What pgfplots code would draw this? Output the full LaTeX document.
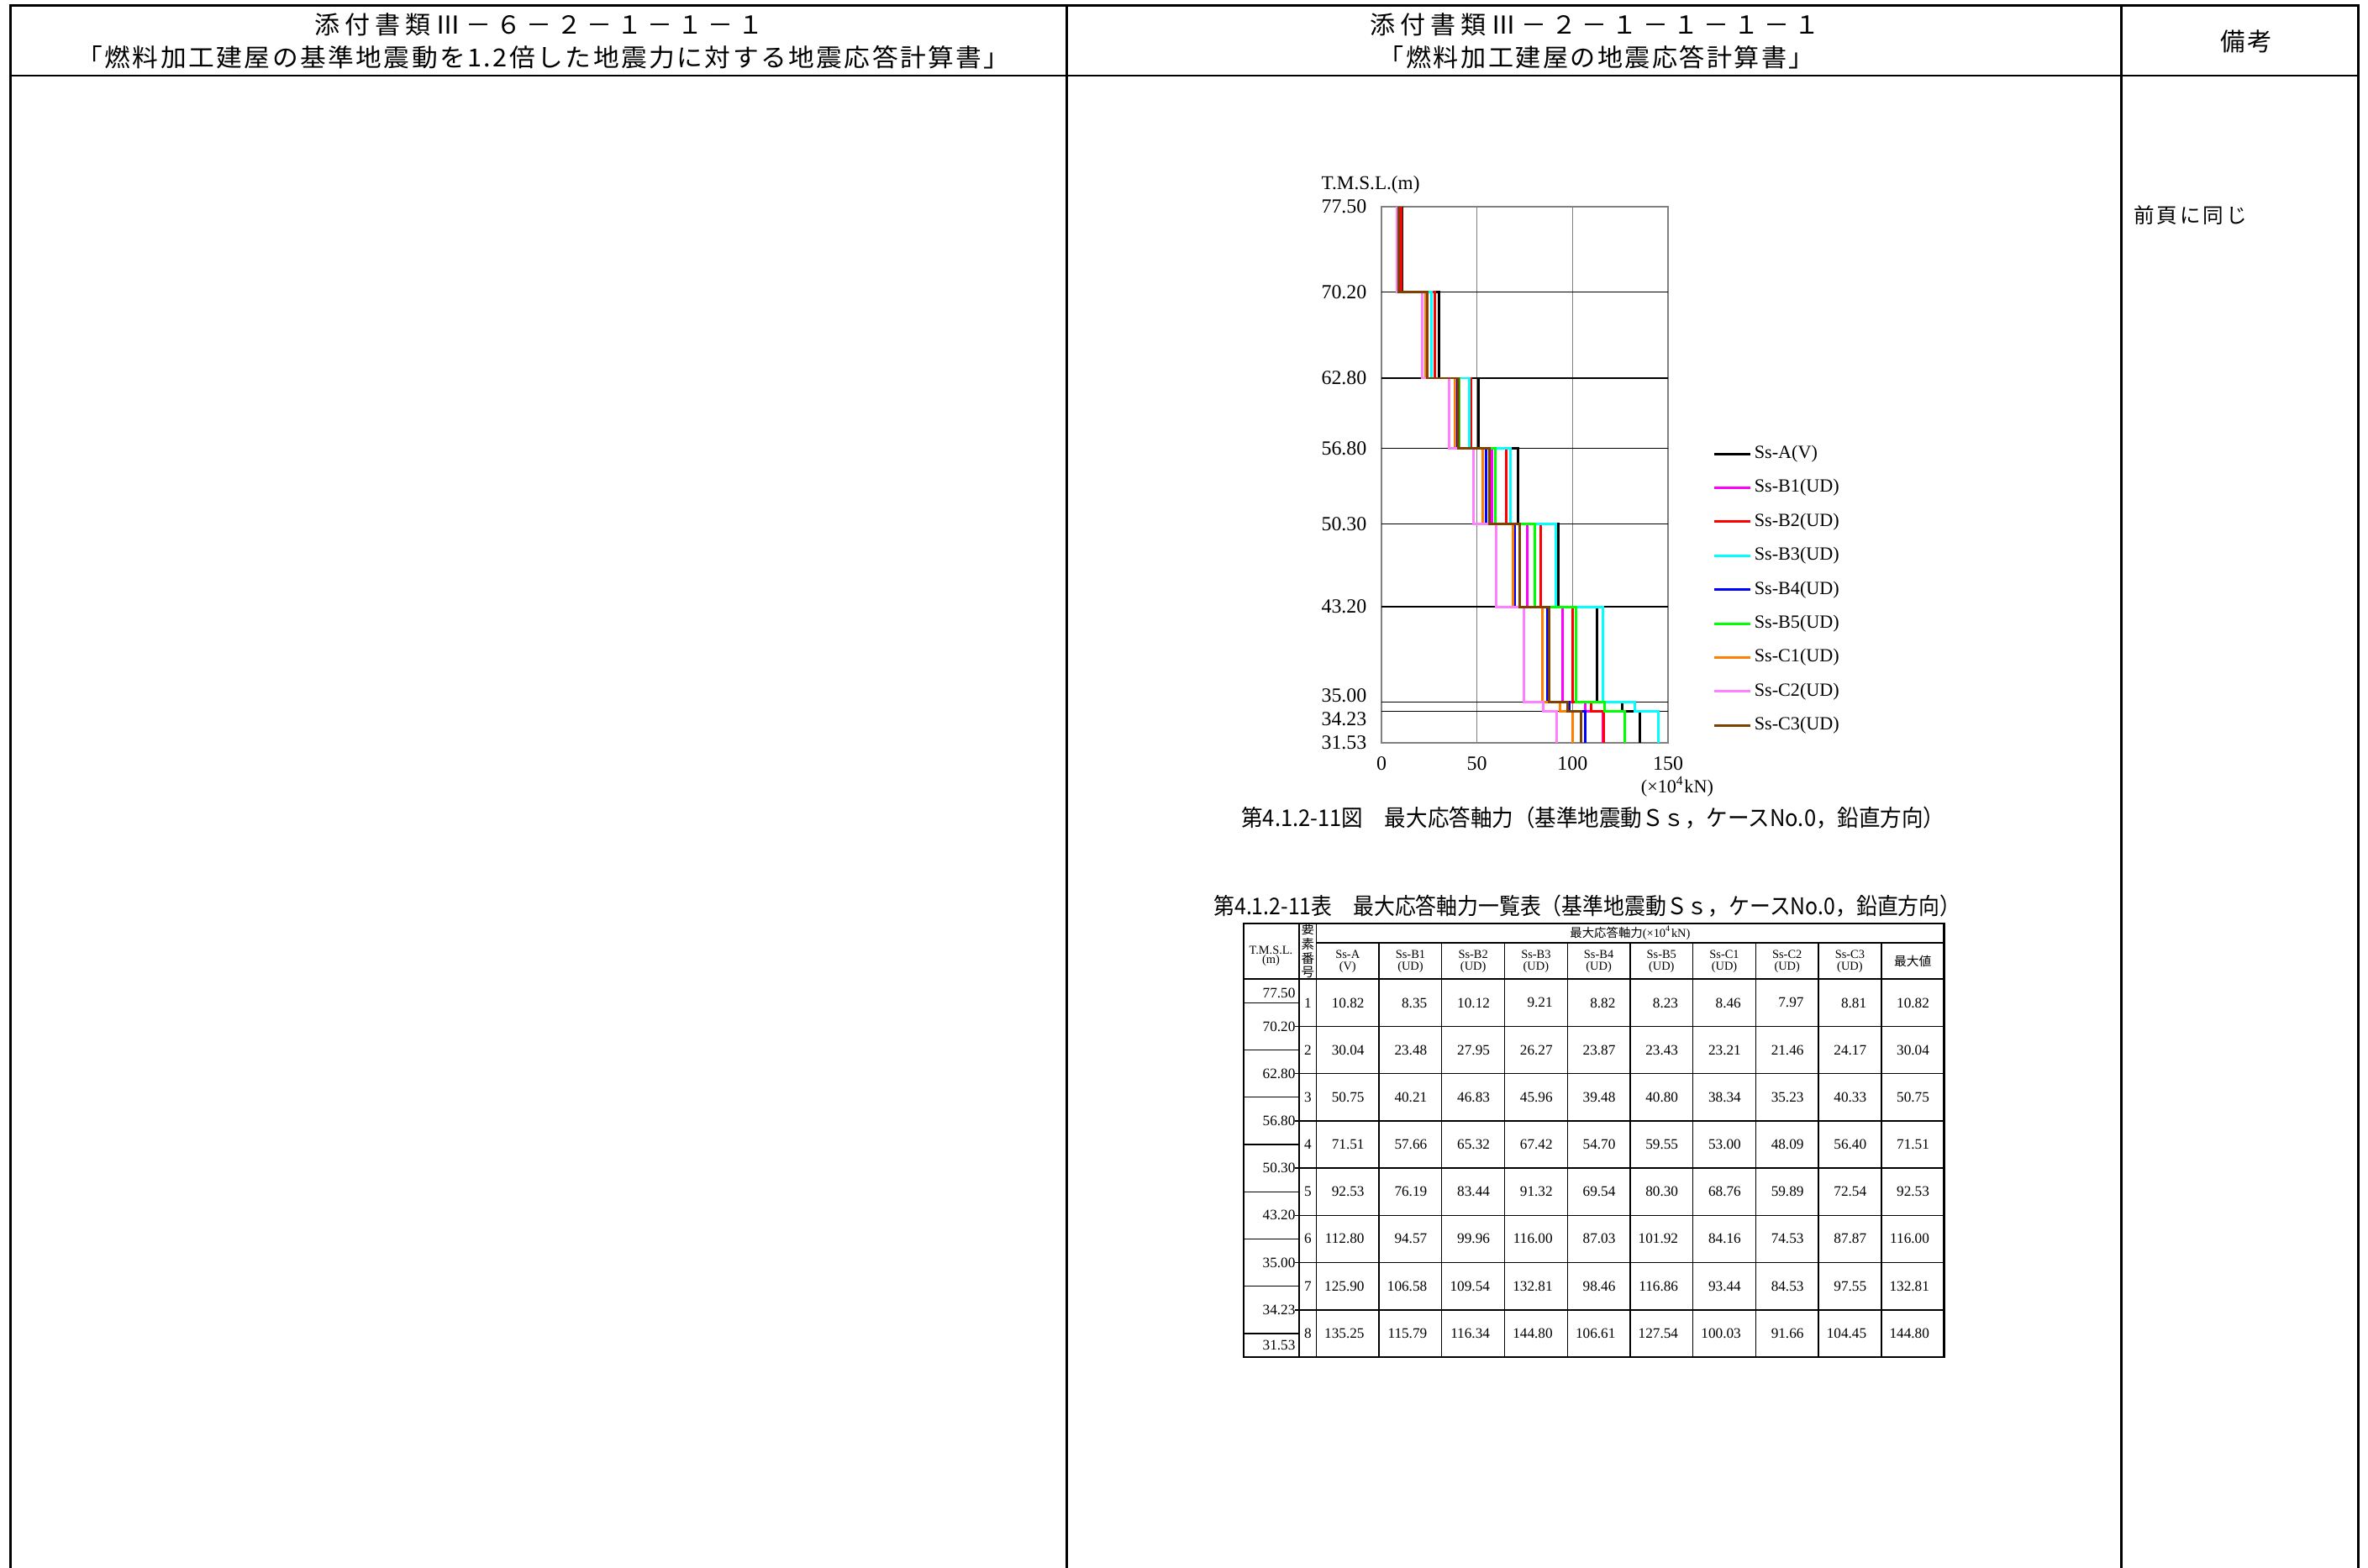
\documentclass[border=0pt]{standalone}
\usepackage{fontspec}
\usepackage{graphicx}
\usepackage{pgfplots}
\usepackage{pgfplotstable}
\pgfplotsset{compat=1.18}
\setmainfont{Liberation Serif}
\newfontfamily\jp{Noto Sans CJK JP}
\newfontfamily\jph[LetterSpace=8]{Noto Sans CJK JP}
\newfontfamily\jphw[LetterSpace=20]{Noto Sans CJK JP}
\newfontfamily\jpn[LetterSpace=12]{Noto Sans CJK JP}
\newcommand{\fitw}[2]{\resizebox{#1}{\height}{#2}}
\newcommand{\tabnum}{\fontsize{4.9}{5.5}\selectfont}
\newcommand{\tabhd}{\fontsize{4.1}{5}\selectfont}
\definecolor{cA}{RGB}{0,0,0}
\definecolor{cB1}{RGB}{255,0,255}
\definecolor{cB2}{RGB}{255,0,0}
\definecolor{cB3}{RGB}{0,255,255}
\definecolor{cB4}{RGB}{0,0,255}
\definecolor{cB5}{RGB}{0,255,0}
\definecolor{cC1}{RGB}{255,128,0}
\definecolor{cC2}{RGB}{255,128,255}
\definecolor{cC3}{RGB}{128,64,0}
\pgfplotstableread{
y A B1 B2 B3 B4 B5 C1 C2 C3
77.50 10.82 8.35 10.12 9.21 8.82 8.23 8.46 7.97 8.81
70.20 10.82 8.35 10.12 9.21 8.82 8.23 8.46 7.97 8.81
70.20 30.04 23.48 27.95 26.27 23.87 23.43 23.21 21.46 24.17
62.80 30.04 23.48 27.95 26.27 23.87 23.43 23.21 21.46 24.17
62.80 50.75 40.21 46.83 45.96 39.48 40.80 38.34 35.23 40.33
56.80 50.75 40.21 46.83 45.96 39.48 40.80 38.34 35.23 40.33
56.80 71.51 57.66 65.32 67.42 54.70 59.55 53.00 48.09 56.40
50.30 71.51 57.66 65.32 67.42 54.70 59.55 53.00 48.09 56.40
50.30 92.53 76.19 83.44 91.32 69.54 80.30 68.76 59.89 72.54
43.20 92.53 76.19 83.44 91.32 69.54 80.30 68.76 59.89 72.54
43.20 112.80 94.57 99.96 116.00 87.03 101.92 84.16 74.53 87.87
35.00 112.80 94.57 99.96 116.00 87.03 101.92 84.16 74.53 87.87
35.00 125.90 106.58 109.54 132.81 98.46 116.86 93.44 84.53 97.55
34.23 125.90 106.58 109.54 132.81 98.46 116.86 93.44 84.53 97.55
34.23 135.25 115.79 116.34 144.80 106.61 127.54 100.03 91.66 104.45
31.53 135.25 115.79 116.34 144.80 106.61 127.54 100.03 91.66 104.45
}\axialdata
\begin{document}
\begin{tikzpicture}
\path[use as bounding box] (0,0) rectangle (28.18,-18.66);
\begin{scope}[x=0.01cm,y=-0.01cm]
% page frame
\draw[line width=0.77pt] (12.7,1870) -- (12.7,6.7) -- (2808,6.7) -- (2808,1870);
\draw[line width=0.77pt] (12.7,90) -- (2808,90);
\draw[line width=0.77pt] (1270,6.7) -- (1270,1870);
\draw[line width=0.77pt] (2526,6.7) -- (2526,1870);
% header texts
\node[inner sep=0pt, font=\jphw\fontsize{8.4}{9}\selectfont] at (642,29) {\fitw{5.34cm}{添付書類Ⅲ－６－２－１－１－１}};
\node[inner sep=0pt, font=\jph\fontsize{8.4}{9}\selectfont] at (647,68) {\fitw{11.1cm}{「燃料加工建屋の基準地震動を1.2倍した地震力に対する地震応答計算書」}};
\node[inner sep=0pt, font=\jphw\fontsize{8.4}{9}\selectfont] at (1899,29) {\fitw{5.35cm}{添付書類Ⅲ－２－１－１－１－１}};
\node[inner sep=0pt, font=\jph\fontsize{8.4}{9}\selectfont] at (1901,68) {\fitw{5.18cm}{「燃料加工建屋の地震応答計算書」}};
\node[inner sep=0pt, font=\jph\fontsize{8.4}{9}\selectfont] at (2675,49.5) {備考};
\node[inner sep=0pt, anchor=west, font=\jpn\fontsize{7}{8}\selectfont] at (2540,256) {前頁に同じ};
% captions
\node[inner sep=0pt, font=\jp\fontsize{7.8}{8.5}\selectfont] at (1897,974) {\fitw{8.37cm}{第4.1.2-11図　最大応答軸力（基準地震動Ｓｓ，ケースNo.0，鉛直方向）}};
\node[inner sep=0pt, font=\jp\fontsize{7.8}{8.5}\selectfont] at (1890,1079) {\fitw{8.89cm}{第4.1.2-11表　最大応答軸力一覧表（基準地震動Ｓｓ，ケースNo.0，鉛直方向）}};
% table lines
\draw[line width=0.6pt] (1480.7,1099.3) rectangle (2314.8,1615.7);
\draw[line width=0.6pt] (1546.7,1099.3) -- (1546.7,1615.7);
\draw[line width=0.45pt] (1567.3,1099.3) -- (1567.3,1615.7);
\draw[line width=0.5pt] (1567.3,1122.3) -- (2314.8,1122.3);
\draw[line width=0.6pt] (1480.7,1166) -- (2314.8,1166);
\foreach \k in {2,3,4,6,7}
  \draw[line width=0.3pt] ({1567.3+74.75*\k},1122.3) -- ({1567.3+74.75*\k},1615.7);
\foreach \k in {1,5,8,9}
  \draw[line width=0.6pt] ({1567.3+74.75*\k},1122.3) -- ({1567.3+74.75*\k},1615.7);
\foreach \i in {1,2,4,5,6}
  \draw[line width=0.35pt] (1542,{1166+56.21*\i}) -- (2314.8,{1166+56.21*\i});
\foreach \i in {3,7}
  \draw[line width=0.6pt] (1542,{1166+56.21*\i}) -- (2314.8,{1166+56.21*\i});
\foreach \i in {1,2,3,5,6,7}
  \draw[line width=0.35pt] (1480.7,{1166+56.21*(\i-0.5)}) -- (1546.7,{1166+56.21*(\i-0.5)});
\foreach \i in {4,8}
  \draw[line width=0.6pt] (1480.7,{1166+56.21*(\i-0.5)}) -- (1546.7,{1166+56.21*(\i-0.5)});
% table header texts
\node[inner sep=0pt, font=\tabhd] at (1513.3,1131) {T.M.S.L.};
\node[inner sep=0pt, font=\tabhd] at (1513.3,1144) {(m)};
\foreach \ch/\yy in {要/1107,素/1124,番/1141,号/1158}
  \node[inner sep=0pt, font=\jp\fontsize{4.4}{5}\selectfont] at (1557.3,\yy) {\ch};
\node[inner sep=0pt, font=\tabhd] at (1941,1111) {{\jp 最大応答軸力}(×10\textsuperscript{4}kN)};
\foreach \a/\b [count=\c] in {Ss-A/(V),Ss-B1/(UD),Ss-B2/(UD),Ss-B3/(UD),Ss-B4/(UD),Ss-B5/(UD),Ss-C1/(UD),Ss-C2/(UD),Ss-C3/(UD)}{
  \node[inner sep=0pt, font=\tabhd] at ({1567.3+74.75*(\c-0.5)},1136.7) {\a};
  \node[inner sep=0pt, font=\tabhd] at ({1567.3+74.75*(\c-0.5)},1151.7) {\b};
}
\node[inner sep=0pt, font=\jp\fontsize{4.2}{5}\selectfont] at ({1567.3+74.75*9.5},1145) {最大値};
% elevation labels
\foreach \lab/\yy in {77.50/1182.7,70.20/1222.2,62.80/1278.4,56.80/1334.6,50.30/1390.8,43.20/1447.1,35.00/1503.3,34.23/1559.5,31.53/1602}
  \node[inner sep=0pt, anchor=east, font=\tabnum] at (1543,\yy) {\lab};
% element numbers
\foreach \r in {1,...,8}
  \node[inner sep=0pt, font=\tabnum] at (1557.3,{1166+56.21*(\r-0.5)}) {\r};
% values
\foreach \r/\vals in {
  1/{10.82,8.35,10.12,9.21,8.82,8.23,8.46,7.97,8.81,10.82},
  2/{30.04,23.48,27.95,26.27,23.87,23.43,23.21,21.46,24.17,30.04},
  3/{50.75,40.21,46.83,45.96,39.48,40.80,38.34,35.23,40.33,50.75},
  4/{71.51,57.66,65.32,67.42,54.70,59.55,53.00,48.09,56.40,71.51},
  5/{92.53,76.19,83.44,91.32,69.54,80.30,68.76,59.89,72.54,92.53},
  6/{112.80,94.57,99.96,116.00,87.03,101.92,84.16,74.53,87.87,116.00},
  7/{125.90,106.58,109.54,132.81,98.46,116.86,93.44,84.53,97.55,132.81},
  8/{135.25,115.79,116.34,144.80,106.61,127.54,100.03,91.66,104.45,144.80}}{
  \foreach \v [count=\c] in \vals {
    \node[inner sep=0pt, anchor=east, font=\tabnum] at ({1567.3+74.75*(\c-0.5)+20.5},{1166+56.21*(\r-0.5)}) {\v};
  }
}
\end{scope}
\begin{axis}[
  at={(16.44cm,-2.46cm)}, anchor=north west,
  scale only axis, width=3.41cm, height=6.38cm,
  xmin=0, xmax=150, ymin=31.53, ymax=77.5,
  xtick={0,50,100,150},
  ytick={31.53,77.5}, yticklabels={31.53,77.50},
  extra y ticks={34.23,35,43.2,50.3,56.8,62.8,70.2},
  extra y tick labels={\raisebox{-0.93mm}[\height][\depth]{34.23},\raisebox{0.83mm}[\height][\depth]{35.00},43.20,50.30,56.80,62.80,70.20},
  extra y tick style={grid=major, major grid style={black, line width=0.35pt}, major tick length=0pt},
  xmajorgrids=true, ymajorgrids=false,
  major grid style={gray, line width=0.35pt},
  major tick length=0pt,
  axis line style={gray, line width=0.35pt},
  /pgf/number format/assume math mode=true,
  tick label style={font=\fontsize{6.8}{7.5}\selectfont},
  y tick label style={anchor=east, inner sep=0pt, xshift=-1.7mm},
  x tick label style={anchor=north, inner sep=0pt, yshift=-1.6mm},
  title={T.M.S.L.(m)},
  title style={at={(axis description cs:-0.038,1.0408)}, anchor=center, yshift=-6pt, inner sep=0pt, font=\fontsize{6.6}{7}\selectfont},
  xlabel={(×10\textsuperscript{4}kN)},
  xlabel style={at={(axis description cs:1.032,-0.0815)}, anchor=center, inner sep=0pt, font=\fontsize{6.3}{7}\selectfont},
  every axis plot/.append style={line width=0.85pt},
  legend cell align=left,
  legend image code/.code={\draw[#1] (0cm,0cm) -- (0.43cm,0cm);},
  legend style={at={(axis description cs:1.158,0.5556)}, anchor=north west, draw=none, fill=none,
    inner sep=0pt, outer sep=0pt, row sep=1.94mm, column sep=0.3mm,
    font=\fontsize{6.3}{7}\selectfont,
    nodes={inner sep=0pt, text height=1.6mm, text depth=0.5mm, anchor=west}},
]
\addplot[color=cA] table[x=A, y=y] {\axialdata};
\addlegendentry{Ss-A(V)}
\addplot[color=cB1] table[x=B1, y=y] {\axialdata};
\addlegendentry{Ss-B1(UD)}
\addplot[color=cB2] table[x=B2, y=y] {\axialdata};
\addlegendentry{Ss-B2(UD)}
\addplot[color=cB3] table[x=B3, y=y] {\axialdata};
\addlegendentry{Ss-B3(UD)}
\addplot[color=cB4] table[x=B4, y=y] {\axialdata};
\addlegendentry{Ss-B4(UD)}
\addplot[color=cB5] table[x=B5, y=y] {\axialdata};
\addlegendentry{Ss-B5(UD)}
\addplot[color=cC1] table[x=C1, y=y] {\axialdata};
\addlegendentry{Ss-C1(UD)}
\addplot[color=cC2] table[x=C2, y=y] {\axialdata};
\addlegendentry{Ss-C2(UD)}
\addplot[color=cC3] table[x=C3, y=y] {\axialdata};
\addlegendentry{Ss-C3(UD)}
\end{axis}
\end{tikzpicture}
\end{document}
